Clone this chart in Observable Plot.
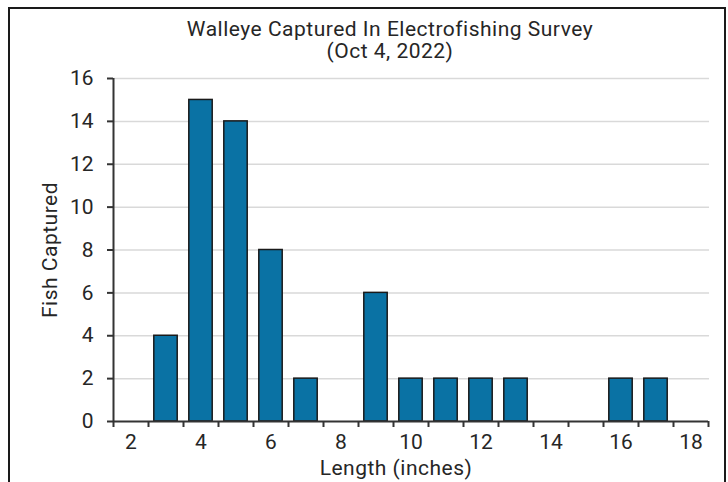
<!DOCTYPE html>
<html>
<head>
<meta charset="utf-8">
<script src="https://cdn.jsdelivr.net/npm/d3@7"></script>
<script src="https://cdn.jsdelivr.net/npm/@observablehq/plot@0.6"></script>
<style>
  html, body { margin: 0; padding: 0; background: #fff; }
  #wrap { position: relative; width: 728px; height: 482px; overflow: hidden;
    font-family: "Roboto", sans-serif; color: #262626; }
  #frame { position: absolute; left: 8px; top: 7px; width: 714px; height: 520px;
    border: 2px solid #1a1a1a; pointer-events: none; }
  #title { position: absolute; left: 0; top: 18px; width: 780px; text-align: center;
    font-size: 21px; line-height: 22px; letter-spacing: 0.5px; }
  #chart { position: absolute; left: 0; top: 63px; }
</style>
</head>
<body>
<div id="wrap">
  <div id="title">Walleye Captured In Electrofishing Survey<br>(Oct 4, 2022)</div>
  <div id="chart"></div>
  <div id="frame"></div>
</div>
<script>
const lengths = [3, 4, 5, 6, 7, 9, 10, 11, 12, 13, 16, 17];
const counts  = [4, 15, 14, 8, 2, 6, 2, 2, 2, 2, 2, 2];
const categories = d3.range(2, 19);            // 2..18 inches
const xLabels = [2, 4, 6, 8, 10, 12, 14, 16, 18];
const yTicks = [0, 2, 4, 6, 8, 10, 12, 14, 16];
const xTitle = "Length (inches)";
const yTitle = "Fish Captured";

const data = lengths.map((l, i) => ({length: l, count: counts[i]}));
const boundaries = [...categories.map(c => c - 0.5), categories[categories.length - 1] + 0.5];
const lo = boundaries[0], hi = boundaries[boundaries.length - 1];

const plot = Plot.plot({
  width: 728,
  height: 419,
  marginLeft: 113,
  marginRight: 20,
  marginTop: 15,
  marginBottom: 61,
  style: {fontFamily: '"Roboto", sans-serif', fontSize: "21px", color: "#262626", background: "transparent"},
  x: {domain: [lo, hi]},
  y: {domain: [0, 16]},
  marks: [
    Plot.gridY(yTicks.slice(1), {stroke: "#d9d9d9", strokeOpacity: 1, strokeWidth: 1.5, x1: lo, x2: hi + 0.03}),
    Plot.rectY(data, {
      x1: d => d.length - 0.5, x2: d => d.length + 0.5, y: "count",
      insetLeft: 5.8, insetRight: 5.8,
      fill: "#0a72a4", stroke: "#1a1a1a", strokeWidth: 1.5
    }),
    Plot.ruleX([lo], {y1: 0, y2: 16, stroke: "#333", strokeWidth: 2}),
    Plot.ruleY([0], {x1: lo, x2: hi, stroke: "#333", strokeWidth: 2}),
    Plot.axisY(yTicks, {tickSize: 6, tickPadding: 14, stroke: "#333", strokeWidth: 2, label: null}),
    Plot.axisX(boundaries, {tickSize: 6, tickFormat: () => "", stroke: "#333", strokeWidth: 2, label: null}),
    Plot.axisX(xLabels, {tickSize: 0, tickPadding: 13, label: null}),
    Plot.text([xTitle], {frameAnchor: "bottom", lineAnchor: "bottom", dy: 53, dx: -15,
      fontSize: 21, fill: "#262626"}),
    Plot.text([yTitle], {frameAnchor: "left", textAnchor: "middle", rotate: -90, dx: -63, fontSize: 21,
      fill: "#262626"})
  ]
});
plot.querySelectorAll("text").forEach(t => {
  if (t.textContent === xTitle || t.textContent === yTitle) t.style.letterSpacing = "0.5px";
});
document.getElementById("chart").appendChild(plot);
</script>
</body>
</html>
